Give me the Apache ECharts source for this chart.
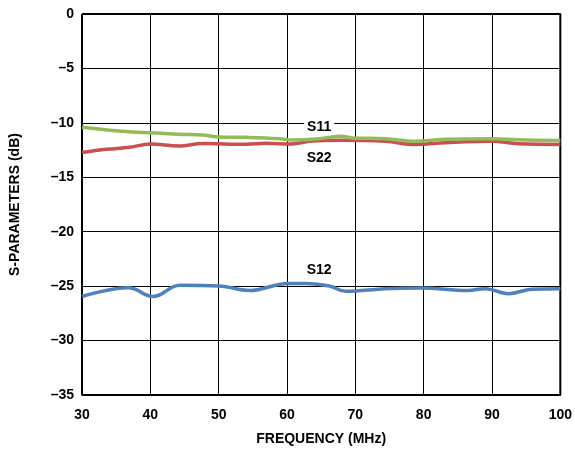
<!DOCTYPE html>
<html>
<head>
<meta charset="utf-8">
<script src="https://cdn.jsdelivr.net/npm/echarts@6/dist/echarts.min.js"></script>
<style>
  html, body { margin: 0; padding: 0; background: #fff; }
  #chart { width: 575px; height: 451px; }
</style>
</head>
<body>
<div id="chart"></div>
<script>
// frequency (MHz) / dB values
var s11Freq = [30, 37.4, 40, 44.3, 47.6, 50.1, 54, 58.9, 60.7, 64.7, 68, 69.5, 74.4, 78.8, 83.2, 90, 93.9, 100];
var s11Vals = [-10.4, -10.85, -10.9, -11.05, -11.12, -11.3, -11.33, -11.45, -11.58, -11.45, -11.22, -11.38, -11.45, -11.68, -11.5, -11.45, -11.55, -11.62];

var s22Freq = [30, 33.6, 37, 40, 44.3, 47.6, 54, 57, 60.7, 63.6, 68, 74.4, 78.8, 83.2, 90, 93.9, 100];
var s22Vals = [-12.72, -12.43, -12.25, -11.94, -12.12, -11.9, -11.97, -11.88, -11.94, -11.67, -11.6, -11.7, -11.98, -11.82, -11.7, -11.92, -11.98];

var s12Freq = [30, 36.8, 40.4, 44.3, 50.1, 54.5, 60.2, 62.8, 66.2, 68.6, 74.4, 79.6, 86.5, 89, 92.4, 95.8, 100];
var s12Vals = [-25.95, -25.15, -25.95, -24.92, -24.99, -25.4, -24.75, -24.75, -24.99, -25.48, -25.23, -25.17, -25.4, -25.23, -25.7, -25.28, -25.23];

var xTicks = [30, 40, 50, 60, 70, 80, 90, 100];
var yTicks = [0, -5, -10, -15, -20, -25, -30, -35];

// series name labels: [freq, dB, text]
var seriesLabels = [
  [64.7, -10.38, 'S11'],
  [64.7, -13.2, 'S22'],
  [64.7, -23.5, 'S12']
];

function pairs(xs, ys) {
  return xs.map(function (x, i) { return [x, ys[i]]; });
}

var font = 'Liberation Sans, Arial, sans-serif';

var chart = echarts.init(document.getElementById('chart'));
chart.setOption({
  animation: false,
  grid: { left: 82, right: 13, top: 14, bottom: 56 },
  xAxis: {
    type: 'value',
    min: 30, max: 100, interval: 10,
    name: 'FREQUENCY (MHz)',
    nameLocation: 'middle',
    nameGap: 37,
    nameTextStyle: { fontFamily: font, fontWeight: 'bold', fontSize: 14, color: '#000' },
    axisLine: { show: false },
    axisTick: { show: false },
    axisLabel: { fontFamily: font, fontWeight: 'bold', fontSize: 14, color: '#000', margin: 13 },
    splitLine: { lineStyle: { color: '#000', width: 1 } }
  },
  yAxis: {
    type: 'value',
    min: -35, max: 0, interval: 5,
    name: 'S-PARAMETERS (dB)',
    nameLocation: 'middle',
    nameGap: 60,
    nameTextStyle: { fontFamily: font, fontWeight: 'bold', fontSize: 14, color: '#000' },
    axisLine: { show: false },
    axisTick: { show: false },
    axisLabel: {
      fontFamily: font, fontWeight: 'bold', fontSize: 14, color: '#000', margin: 8,
      formatter: function (v) { return v < 0 ? '\u2013' + Math.abs(v) : String(v); }
    },
    splitLine: { lineStyle: { color: '#000', width: 1 } }
  },
  series: [
    {
      name: 'S11', type: 'line', smooth: 0.4, symbol: 'none',
      lineStyle: { color: '#92bc58', width: 3.5 },
      data: pairs(s11Freq, s11Vals),
      z: 3
    },
    {
      name: 'S22', type: 'line', smooth: 0.4, symbol: 'none',
      lineStyle: { color: '#c9504f', width: 3.5 },
      data: pairs(s22Freq, s22Vals),
      z: 2
    },
    {
      name: 'S12', type: 'line', smooth: 0.4, symbol: 'none',
      lineStyle: { color: '#4f81bd', width: 3.5 },
      data: pairs(s12Freq, s12Vals),
      markPoint: {
        symbol: 'circle', symbolSize: 0,
        label: {
          show: true, position: 'inside',
          fontFamily: font, fontWeight: 'bold', fontSize: 14, color: '#000',
          backgroundColor: '#fff', padding: [1, 3],
          formatter: function (p) { return p.name; }
        },
        data: seriesLabels.map(function (l) { return { name: l[2], coord: [l[0], l[1]] }; })
      }
    },
    {
      // frame around the plot
      type: 'line', symbol: 'none', silent: true,
      lineStyle: { color: '#000', width: 2 },
      data: [[30, 0], [100, 0], [100, -35], [30, -35], [30, 0]],
      z: 1
    }
  ]
});
</script>
</body>
</html>
